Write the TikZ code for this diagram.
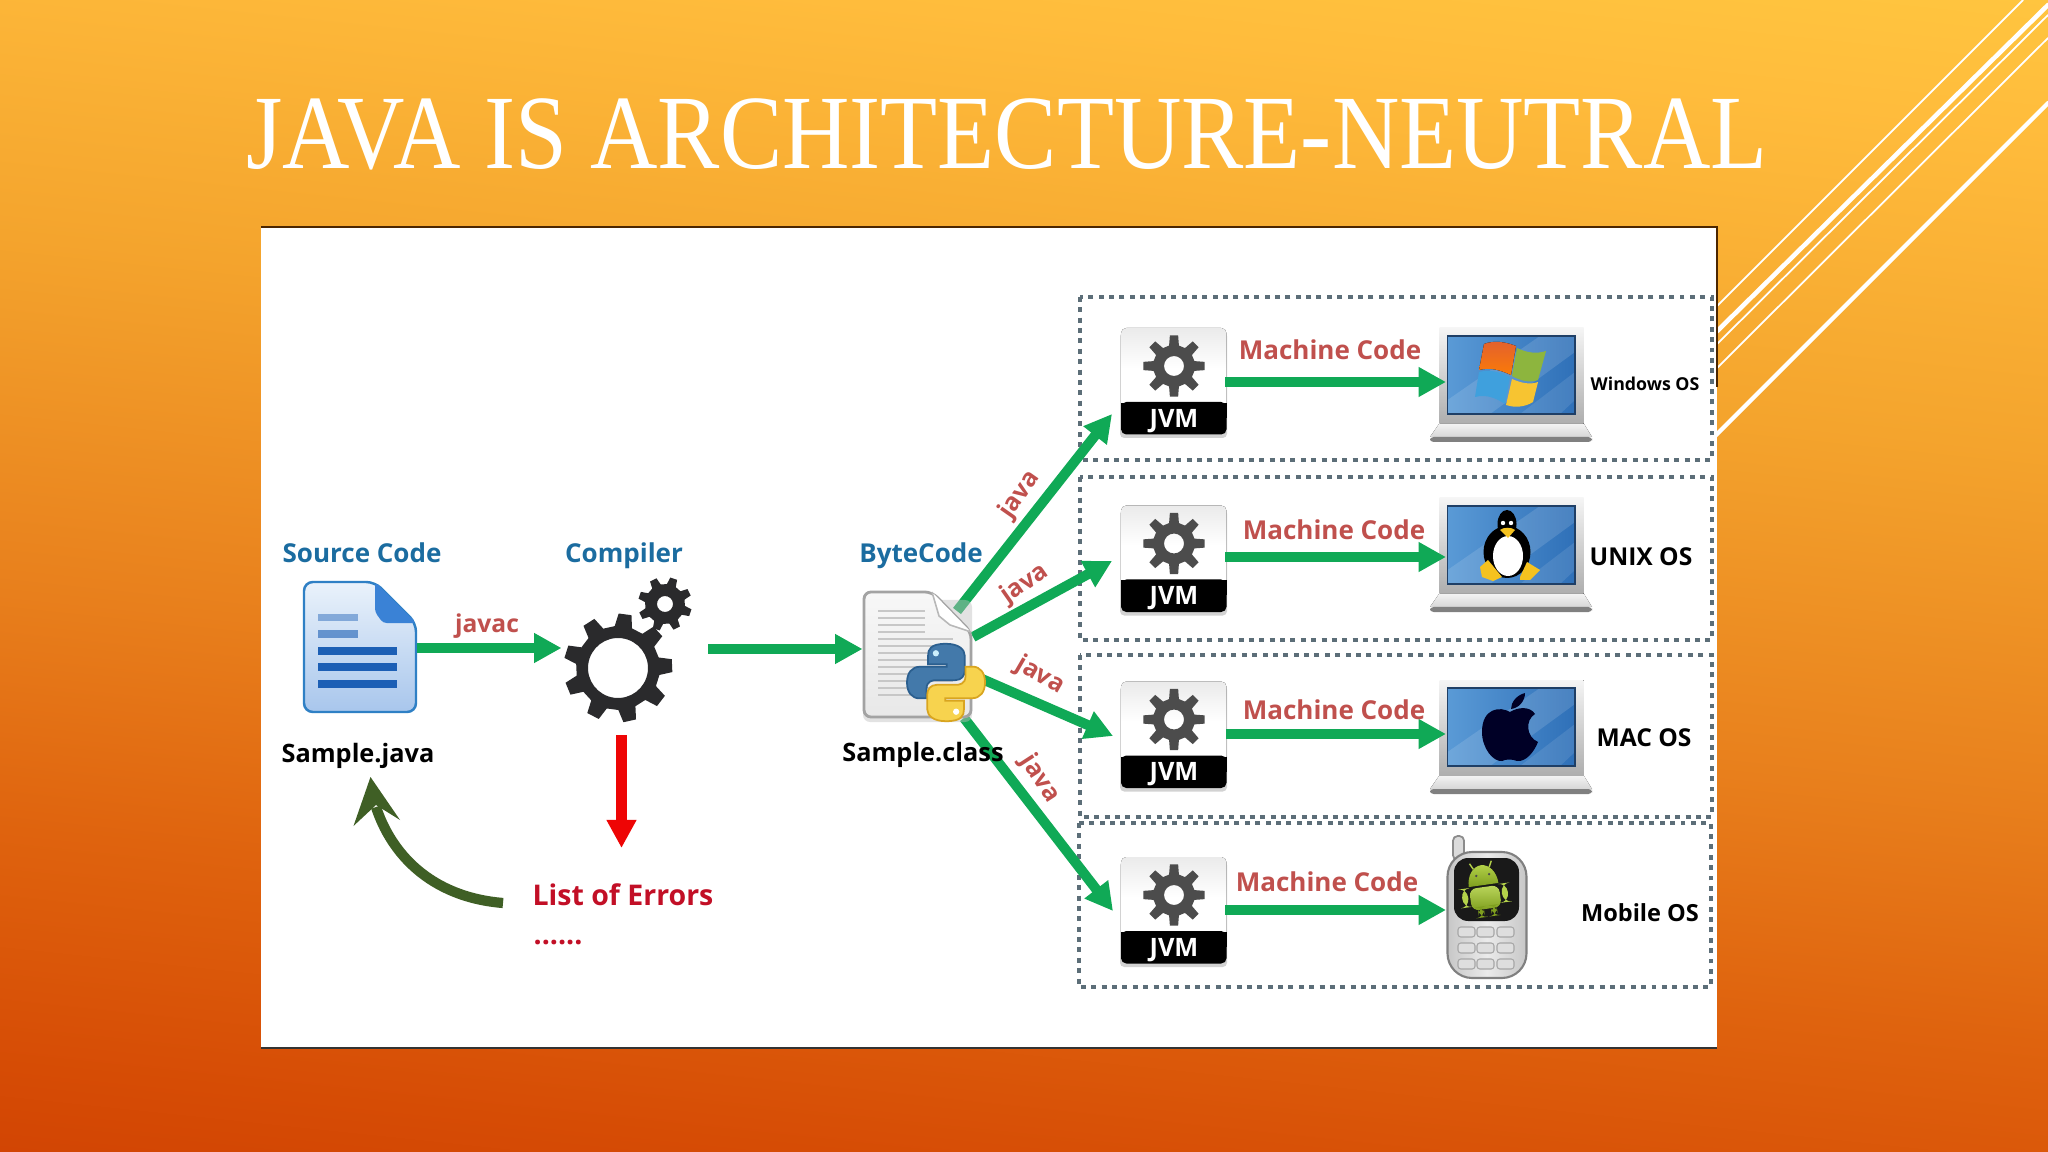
\documentclass[tikz,border=0pt]{standalone}
\usepackage{fontspec}
\setmainfont{Open Sans}
\newfontfamily\titlefont{Liberation Serif}
\usetikzlibrary{arrows.meta,shapes.geometric}
\definecolor{garrow}{HTML}{10A956}
\definecolor{labred}{HTML}{C0504D}
\definecolor{labblue}{HTML}{1B6CA0}
\definecolor{errred}{HTML}{C20F26}
\definecolor{arrred}{HTML}{EE0505}
\definecolor{olive}{HTML}{3F5F25}
\definecolor{dots}{HTML}{5C6E78}
\definecolor{gearblack}{HTML}{2A2A2C}
\definecolor{geargrey}{HTML}{4C4C4C}
\definecolor{bga}{HTML}{D04203}
\definecolor{bgb}{HTML}{D64C05}
\definecolor{bgc}{HTML}{DF630E}
\definecolor{bgd}{HTML}{E87F1C}
\definecolor{bge}{HTML}{F4A42D}
\definecolor{bgf}{HTML}{FFBC3C}
\definecolor{bgg}{HTML}{FFC53F}
\definecolor{scrl}{HTML}{5A9AD6}
\definecolor{scrr}{HTML}{2F70B8}
\definecolor{scrtop}{HTML}{1F3F66}
\definecolor{docline}{HTML}{1C5FB5}
\definecolor{docedge}{HTML}{2F80C5}
\definecolor{doctop}{HTML}{EAF2FB}
\definecolor{docbot}{HTML}{A8C6EC}
\definecolor{docfold}{HTML}{3A82D6}
\definecolor{pyblue}{HTML}{4379AA}
\definecolor{pybluee}{HTML}{2B5F8F}
\definecolor{pyyel}{HTML}{F7D34E}
\definecolor{pyyele}{HTML}{D9A520}
\definecolor{droid}{HTML}{B4D24A}
\definecolor{droidb}{HTML}{7E9E1E}
\definecolor{winr}{HTML}{E2602F}
\definecolor{wing}{HTML}{8DB53E}
\definecolor{winb}{HTML}{3FA0DD}
\definecolor{winy}{HTML}{F7C431}
\definecolor{tuxy}{HTML}{F5C21F}
\pgfdeclareverticalshading{slidebg}{100bp}{
 color(0bp)=(bga);
 color(21bp)=(bga);
 color(26bp)=(bgb);
 color(35.5bp)=(bgc);
 color(45bp)=(bgd);
 color(59.4bp)=(bge);
 color(72.4bp)=(bgf);
 color(77.6bp)=(bgg);
 color(100bp)=(bgg)}
\tikzset{
 greenarrow/.style={draw=garrow,line width=2.85pt,-{Triangle[length=7.8pt,width=8pt]}},
 redarrow/.style={draw=arrred,line width=2.85pt,-{Triangle[length=8pt,width=8pt]}},
 oslabel/.style={font=\bfseries\fontsize{7.0}{9}\selectfont,text=black,inner sep=0pt},
 samplelabel/.style={font=\bfseries\fontsize{7.2}{9}\selectfont,text=black,inner sep=0pt},
 mobilelabel/.style={font=\bfseries\fontsize{6.7}{9}\selectfont,text=black,inner sep=0pt},
 smalllabel/.style={font=\bfseries\fontsize{5.05}{7}\selectfont,text=black,inner sep=0pt},
 heading/.style={font=\bfseries\fontsize{7.4}{9}\selectfont,text=labblue,inner sep=0pt,anchor=base},
 errlabel/.style={font=\bfseries\fontsize{8.1}{10}\selectfont,text=errred,inner sep=0pt},
 mcode/.style={font=\bfseries\fontsize{7.4}{9}\selectfont,text=labred,inner sep=0pt},
 javalabel/.style={font=\bfseries\fontsize{7.0}{9}\selectfont,text=labred,inner sep=0pt},
 jvmtext/.style={font=\bfseries\fontsize{7.2}{8}\selectfont,text=white,inner sep=0pt},
 dotbox/.style={draw=dots,line width=1.3pt,dash pattern=on 1.4pt off 1.55pt},
 stripe/.style={draw=white,line cap=round},
}
\newcommand{\drawgear}[8]{%
 \begin{scope}[shift={(#1,#2)},rotate=#8]
 \pgfmathsetmacro\gs{360/#3}
 \fill[#7,even odd rule] (0:#5)
  \foreach \i in {1,...,#3}{
   -- ({(\i-1)*\gs+.30*\gs}:#5)
   -- ({\i*\gs-.30*\gs}:#5)
   -- ({\i*\gs-.17*\gs}:#4)
   -- ({\i*\gs+.17*\gs}:#4)
   -- ({\i*\gs+.30*\gs}:#5)
  } -- cycle
  (0,0) circle (#6);
 \end{scope}}
\newcommand{\jvmicon}[2]{%
 \begin{scope}[shift={(1121,#1)}]
  \fill[black!35,opacity=.5,rounded corners=1.2pt] (-1,4) rectangle (106,110);
  \fill[rounded corners=1.5pt,top color=black!8,bottom color=white,middle color=white] (0,0) rectangle (105.5,80);
  \fill[black,rounded corners=1.5pt] (0,74) rectangle (105.5,106.5);
  \fill[black] (0,75) rectangle (105.5,90);
 \end{scope}
 \drawgear{1174}{#1+38}{8}{31}{21}{10}{geargrey}{0}
 \node[jvmtext] (#2) at (1174,#1+93) {JVM};}
\newcommand{\laptop}[1]{%
 \begin{scope}[shift={(0,#1)}]
  \fill[top color=black!4,bottom color=black!32] (1439.5,328) rectangle (1583.5,424);
  \fill[top color=black!5,bottom color=black!16] (1439,424) -- (1584,424) -- (1592,437) -- (1430,437) -- cycle;
  \fill[black!50,rounded corners=1pt] (1430,437) rectangle (1592,442);
  \fill[left color=scrl,right color=scrr] (1447.5,336) rectangle (1575,414);
  \fill[white,opacity=.13] (1447.5,414) -- (1490,414) -- (1575,352) -- (1575,336) -- (1540,336) -- (1447.5,400) -- cycle;
  \fill[white,opacity=.10] (1520,414) -- (1560,414) -- (1575,400) -- (1575,372) -- cycle;
  \draw[scrtop,line width=.45pt] (1447.5,414) -- (1447.5,336) -- (1575,336) -- (1575,414) -- cycle;
 \end{scope}}
\newcommand{\snake}{(50,1) .. controls (30,1) and (27,8) .. (27,16) -- (27,27) -- (51,27) -- (51,30) -- (17,30)
  .. controls (6,30) and (0,38) .. (0,50) .. controls (0,62) and (6,70) .. (16,70) -- (25,70) -- (25,58)
  .. controls (25,48) and (33,47) .. (37,47) -- (62,47) .. controls (70,47) and (74,41) .. (74,35) -- (74,16)
  .. controls (74,8) and (66,1) .. (50,1) -- cycle}
\begin{document}
\begin{tikzpicture}[x=0.01cm,y=-0.01cm]
\useasboundingbox (0,0) rectangle (2048,1152);
\shade[shading=slidebg,shading angle=-6] (0,0) rectangle (2048,1152);
% decorative stripes
\draw[stripe,line width=.5pt] (2023,0) -- (1700,323);
\draw[stripe,line width=1.3pt] (2048,5) -- (1700,348);
\draw[stripe,line width=.5pt] (2048,15) -- (1700,361);
\draw[stripe,line width=.5pt] (2048,38) -- (1700,385);
\draw[stripe,line width=1.2pt] (2048,103) -- (1700,451);
% title
\node[anchor=base,inner sep=0pt,text=white,font=\titlefont\fontsize{30}{36}\selectfont] (title) at (1007,169) {\scalebox{.885}[1]{JAVA IS ARCHITECTURE-NEUTRAL}};
% panel
\fill[white] (261,227) rectangle (1717,1048);
\draw[black!70!orange,line width=.35pt] (261,227) -- (1717,227) -- (1717,387);
\draw[black!80,line width=.45pt] (261,1048) -- (1717,1048);
% dotted frames
\draw[dotbox] (1080,297) rectangle (1712,460);
\draw[dotbox] (1080,477) rectangle (1712,640);
\draw[dotbox] (1080,655) rectangle (1712,817);
\draw[dotbox] (1079,823) rectangle (1711,987);

% source document
\filldraw[draw=docedge,line width=.7pt,rounded corners=2.5pt,top color=doctop,bottom color=docbot]
 (375,582) -- (304,582) -- (304,712) -- (416,712) -- (416,623) -- cycle;
\fill[docfold,rounded corners=1pt] (375,582) -- (416,623) -- (383,623) -- (375,612) -- cycle;
\fill[docline,opacity=.45] (318,614) rectangle (358,621);
\fill[docline,opacity=.6] (318,630) rectangle (358,638);
\fill[docline] (318,647) rectangle (397,655);
\fill[docline] (318,663) rectangle (397,671);
\fill[docline] (318,680) rectangle (397,688);

% compiler gears
\drawgear{618}{668}{9}{54.5}{42}{30}{gearblack}{82.5}
\drawgear{665}{604}{8}{27}{20}{8}{gearblack}{71}
\coordinate (compin) at (561.5,648);
\coordinate (compout) at (708,649);
\coordinate (comperr) at (621.5,735);
\coordinate (srcout) at (417,648);

% bytecode page
\coordinate (bytein) at (862.5,649);
\coordinate (b1) at (957,611);
\coordinate (b2) at (973,637);
\coordinate (b3) at (982,679);
\coordinate (b4) at (964,718);
\coordinate (j1) at (1112,414);
\coordinate (j2) at (1112,561);
\coordinate (j3) at (1113,736);
\coordinate (j4) at (1113,911);
\draw[greenarrow] (b1) -- (j1);
\draw[greenarrow] (b2) -- (j2);
\draw[greenarrow] (b3) -- (j3);
\draw[greenarrow] (b4) -- (j4);
\fill[black!25,opacity=.45,rounded corners=2pt] (863,600) rectangle (972,722);
\filldraw[draw=black!36,line width=.8pt,rounded corners=2pt,top color=black!3,bottom color=black!9]
 (932,592) -- (864,592) -- (864,717) -- (971,717) -- (971,632) -- cycle;
\fill[white,rounded corners=1pt] (932,592) -- (971,632) -- (950,625) -- (939,616) -- cycle;
\draw[black!28,line width=.45pt] (932,592) -- (939,616) -- (950,625) -- (971,632);
\foreach \yy in {611,618,625,632}{\draw[black!22,line width=.4pt] (878,\yy) -- (925,\yy);}
\foreach \yy in {639,646,653,660,667,674,681,688,695}{\draw[black!22,line width=.4pt] (878,\yy) -- (953,\yy);}
\begin{scope}[shift={(907,643)},x=.0078cm,y=-.0079cm]
 \filldraw[draw=pybluee,line width=.5pt,fill=pyblue] \snake;
 \fill[cyan!20] (37,13) circle (4);
\end{scope}
\begin{scope}[shift={(985,722)},x=-.0078cm,y=.0079cm]
 \filldraw[draw=pyyele,line width=.5pt,fill=pyyel] \snake;
 \fill[white] (37,13) circle (4);
\end{scope}

% main arrows
\draw[greenarrow] (srcout) -- (compin);
\draw[greenarrow] (compout) -- (bytein);
\coordinate (errlab) at (621.5,848);
\draw[redarrow] (comperr) -- (errlab);
% return arrow
\coordinate (errback) at (503,903);
\coordinate (backtip) at (376,807);
\draw[olive,line width=2.9pt] (errback) .. controls (430,897) and (391,853) .. (backtip);
\fill[olive] (370.5,777) -- (400,820) -- (376,805) -- (353.5,826) -- cycle;

% labels left
\node[heading] (srcl) at (362,563) {Source Code};
\node[heading] (coml) at (624,563) {Compiler};
\node[heading] (bytl) at (921,563) {ByteCode};
\node[mcode,font=\bfseries\fontsize{7.0}{9}\selectfont] (javac) at (487,626) {javac};
\node[samplelabel] (sjava) at (358,755.5) {Sample.java};
\node[samplelabel] (sclass) at (923,754.5) {Sample.class};
\node[errlabel] (errs) at (623,895) {List of Errors};
\node[errlabel,anchor=west] (edots) at (533,943) {......};
\node[javalabel,rotate=55] (ja1) at (1020,495) {java};
\node[javalabel,rotate=35] (ja2) at (1025,584) {java};
\node[javalabel,rotate=-30] (ja3) at (1040,676) {java};
\node[javalabel,rotate=-57] (ja4) at (1040,779) {java};

% JVM icons
\jvmicon{328}{jvma}
\jvmicon{505.5}{jvmb}
\jvmicon{681.5}{jvmc}
\jvmicon{857}{jvmd}

% machine code arrows
\coordinate (ma) at (1225,382); \coordinate (mae) at (1446,382);
\coordinate (mb) at (1225,557); \coordinate (mbe) at (1446,557);
\coordinate (mc) at (1226,734); \coordinate (mce) at (1446,734);
\coordinate (md) at (1225,910); \coordinate (mde) at (1446,910);
\laptop{0}\laptop{170}\laptop{352}
\draw[greenarrow] (ma) -- (mae);
\draw[greenarrow] (mb) -- (mbe);
\draw[greenarrow] (mc) -- (mce);
\draw[greenarrow] (md) -- (mde);
\node[mcode] (mca) at (1330,350) {Machine Code};
\node[mcode] (mcb) at (1334,530) {Machine Code};
\node[mcode] (mcc) at (1334,710) {Machine Code};
\node[mcode] (mcd) at (1327,882) {Machine Code};

% windows logo
\fill[top color=winr,bottom color=orange!85!winr] (1484,344) .. controls (1494,340) and (1506,342) .. (1516,346) -- (1511,375) .. controls (1500,370) and (1490,367) .. (1479,370) -- cycle;
\fill[wing] (1517,348) .. controls (1527,353) and (1537,354) .. (1546,351) -- (1538,380) .. controls (1530,383) and (1521,381) .. (1512,376) -- cycle;
\fill[winb] (1479,372) .. controls (1490,369) and (1500,372) .. (1510,377) -- (1505,404) .. controls (1496,398) and (1486,394) .. (1475,397) -- cycle;
\fill[winy] (1512,379) .. controls (1521,383) and (1530,385) .. (1538,382) -- (1533,402) .. controls (1525,407) and (1515,408) .. (1506,405) -- cycle;

% penguin
\fill[black] (1507,524) ellipse (9.5 and 14);
\fill[black] (1507,552) ellipse (23.5 and 26);
\fill[white] (1508,556) ellipse (15 and 20);
\fill[white] (1503,523) circle (2.2);
\fill[white] (1511,523) circle (2.2);
\fill[tuxy] (1500,530) .. controls (1503,527) and (1512,527) .. (1515,530) -- (1508,538) -- cycle;
\fill[tuxy] (1480,567) -- (1488,560) -- (1502,577) -- (1493,581) -- (1482,577) -- cycle;
\fill[tuxy] (1520,577) -- (1527,562) -- (1540,570) -- (1530,580) -- (1520,580) -- cycle;

% apple
\fill[black!85!blue] (1510,712) .. controls (1500,706) and (1482,708) .. (1482,732)
 .. controls (1482,748) and (1493,762) .. (1502,761) .. controls (1506,759) and (1512,759) .. (1517,761)
 .. controls (1526,762) and (1534,752) .. (1538,742) .. controls (1526,737) and (1525,720) .. (1535,714)
 .. controls (1530,706) and (1518,707) .. (1510,712) -- cycle;
\fill[black!85!blue] (1511,709) .. controls (1511,702) and (1517,695) .. (1525,693) .. controls (1525,701) and (1519,708) .. (1511,709) -- cycle;

% phone
\filldraw[draw=black!45,line width=.5pt,fill=black!14,rounded corners=1.3pt] (1453,836) rectangle (1464,860);
\filldraw[draw=black!50,line width=.6pt,left color=black!22,right color=black!22,middle color=black!8,rounded corners=7pt] (1447.5,852) rectangle (1526.5,978);
\fill[black!90,rounded corners=4pt] (1454,858) rectangle (1519,921);
\foreach \ky in {932,948,964}{\foreach \kx in {1466.5,1485.5,1505.5}{
 \filldraw[draw=black!35,line width=.3pt,fill=black!13,rounded corners=.8pt] (\kx-8.5,\ky-5) rectangle (\kx+8.5,\ky+5);}}
% android
\begin{scope}[rotate around={8:(1484,888)}]
 \fill[top color=droid,bottom color=droidb] (1469,885) arc (180:360:15 and 20) -- cycle;
 \fill[top color=droid!90!white,bottom color=droidb,rounded corners=2pt] (1469,887) rectangle (1499,909);
 \fill[droid,rounded corners=2.5pt] (1461,886) rectangle (1467,905);
 \fill[droid,rounded corners=2.5pt] (1501,886) rectangle (1507,905);
 \fill[droidb,rounded corners=2.5pt] (1475,906) rectangle (1481,917);
 \fill[droidb,rounded corners=2.5pt] (1488,906) rectangle (1494,917);
 \draw[droid,line width=.4pt] (1476,868) -- (1473,862) (1492,868) -- (1495,862);
 \fill[black!70] (1478,875) circle (1.3) (1491,875) circle (1.3);
\end{scope}

% OS labels
\node[smalllabel] (wos) at (1645,384) {Windows OS};
\node[oslabel] (uos) at (1641,557) {UNIX OS};
\node[oslabel] (mos) at (1644,738) {MAC OS};
\node[mobilelabel] (mob) at (1640,913) {Mobile OS};
\end{tikzpicture}
\end{document}
